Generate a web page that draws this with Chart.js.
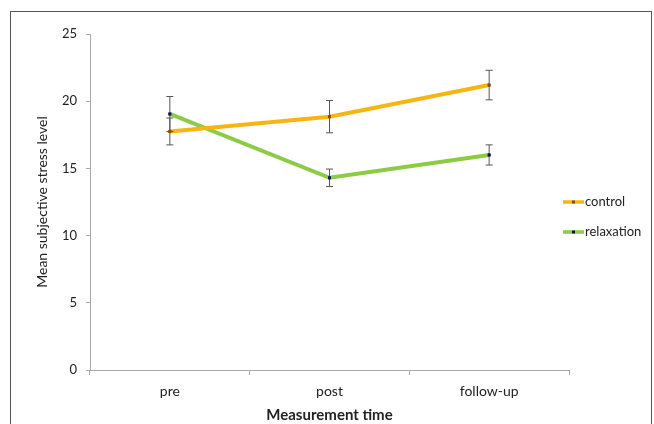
<!DOCTYPE html>
<html><head><meta charset="utf-8">
<script src="https://cdn.jsdelivr.net/npm/chart.js@4"></script>
<style>html,body{margin:0;padding:0;background:#fff}#wrap{width:654px;height:424px}</style>
</head><body><div id="wrap"><canvas id="c" width="654" height="424"></canvas></div>
<script>
const categories = ['pre', 'post', 'follow-up'];
const controlMeans = [17.75, 18.85, 21.2];
const controlErr = [1.0, 1.2, 1.1];
const relaxationMeans = [19.05, 14.3, 16.0];
const relaxationErr = [1.3, 0.65, 0.75];
const yTicks = [0, 5, 10, 15, 20, 25];
const seriesNames = ['control', 'relaxation'];

const FONT = 'Lato, "Open Sans", sans-serif';

const errorBars = {
  id: 'errorBars',
  afterDatasetsDraw(chart) {
    const ctx = chart.ctx, y = chart.scales.y;
    chart.data.datasets.forEach((ds, i) => {
      const meta = chart.getDatasetMeta(i);
      meta.data.forEach((pt, j) => {
        const e = ds.errors[j], v = ds.data[j];
        const top = y.getPixelForValue(v + e), bot = y.getPixelForValue(v - e);
        ctx.save();
        ctx.strokeStyle = '#555'; ctx.lineWidth = 1;
        ctx.beginPath();
        ctx.moveTo(pt.x, top); ctx.lineTo(pt.x, bot);
        ctx.moveTo(pt.x - 3.5, top); ctx.lineTo(pt.x + 3.5, top);
        ctx.moveTo(pt.x - 3.5, bot); ctx.lineTo(pt.x + 3.5, bot);
        ctx.stroke();
        ctx.restore();
      });
    });
    chart.data.datasets.forEach((ds, i) => {
      chart.getDatasetMeta(i).data.forEach(p => p.draw(ctx));
    });
  }
};

const frame = {
  id: 'frame',
  beforeDraw(chart) {
    const ctx = chart.ctx;
    ctx.save();
    ctx.fillStyle = '#fff'; ctx.fillRect(0, 0, chart.width, chart.height);
    ctx.strokeStyle = '#555'; ctx.lineWidth = 1;
    ctx.strokeRect(10.5, 11.5, 641, 520);
    ctx.restore();
  }
};

const customLegend = {
  id: 'customLegend',
  afterDraw(chart) {
    const ctx = chart.ctx;
    const ys = [202, 232];
    chart.data.datasets.forEach((ds, i) => {
      const yy = ys[i];
      ctx.save();
      ctx.strokeStyle = ds.borderColor; ctx.lineWidth = 3.5;
      ctx.beginPath(); ctx.moveTo(563, yy); ctx.lineTo(584, yy); ctx.stroke();
      ctx.fillStyle = ds.pointBackgroundColor;
      ctx.fillRect(572, yy - 1.5, 3, 3);
      ctx.fillStyle = '#222';
      ctx.font = '13px ' + FONT;
      ctx.textBaseline = 'middle'; ctx.textAlign = 'left';
      ctx.fillText(ds.label, 585, yy);
      ctx.restore();
    });
  }
};

new Chart(document.getElementById('c'), {
  type: 'line',
  data: {
    labels: categories,
    datasets: [
      { label: seriesNames[0], data: controlMeans, errors: controlErr,
        borderColor: '#F7B512', backgroundColor: '#F7B512', borderWidth: 4,
        pointStyle: 'rect', pointRadius: 2, pointBackgroundColor: '#8a4a10', pointBorderWidth: 0,
        tension: 0, fill: false },
      { label: seriesNames[1], data: relaxationMeans, errors: relaxationErr,
        borderColor: '#8CCB45', backgroundColor: '#8CCB45', borderWidth: 4,
        pointStyle: 'rect', pointRadius: 2, pointBackgroundColor: '#151540', pointBorderWidth: 0,
        tension: 0, fill: false }
    ]
  },
  options: {
    responsive: false,
    animation: false,
    devicePixelRatio: 1,
    layout: { padding: { left: 10, top: 34, right: 85, bottom: 0 } },
    plugins: { legend: { display: false }, tooltip: { enabled: false } },
    scales: {
      x: {
        offset: true,
        grid: { display: true, drawOnChartArea: false, drawTicks: true, tickLength: 5, color: '#aaa', offset: true },
        border: { display: true, color: '#aaa', width: 1 },
        ticks: { color: '#222', font: { family: FONT, size: 14 }, padding: 8, maxRotation: 0 },
        title: { display: true, text: 'Measurement time', color: '#222',
                 font: { family: FONT, size: 15, weight: 'bold' }, padding: { top: 0, bottom: 0 } },
        afterFit(s) { s.height = 54; }
      },
      y: {
        min: 0, max: 25,
        afterBuildTicks(s) { s.ticks = yTicks.map(v => ({ value: v })); },
        grid: { display: true, drawOnChartArea: false, drawTicks: true, tickLength: 4, color: '#aaa' },
        border: { display: true, color: '#aaa', width: 1 },
        ticks: { color: '#222', font: { family: FONT, size: 13 }, padding: 9 },
        title: { display: true, text: 'Mean subjective stress level', color: '#222',
                 font: { family: FONT, size: 14 }, padding: { top: 24, bottom: 0 } },
        afterFit(s) { s.width = 80; }
      }
    }
  },
  plugins: [frame, errorBars, customLegend]
});
</script>
</body></html>
